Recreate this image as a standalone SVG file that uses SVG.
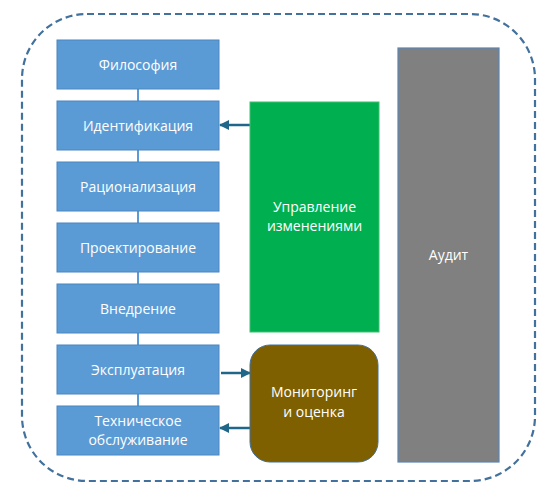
<svg xmlns="http://www.w3.org/2000/svg" width="547" height="490" viewBox="0 0 547 490">
<style>
.step{fill:#5B9BD5;stroke:#4A86C0;stroke-width:1}
.t{font-family:"Open Sans","Liberation Sans",sans-serif;font-size:14px;fill:#fff;text-anchor:middle}
.link{stroke:#5B9BD5;stroke-width:2;fill:none}
.arr{stroke:#1F6688;stroke-width:2.5;fill:none;marker-end:url(#ah)}
</style>
<defs>
<marker id="ah" viewBox="0 0 10 10" refX="9" refY="5" markerWidth="4" markerHeight="4" orient="auto" markerUnits="strokeWidth">
<path d="M0,0 L10,5 L0,10 z" fill="#1F6688"/>
</marker>
</defs>
<rect x="22" y="14" width="513" height="467" rx="65" ry="65" fill="none" stroke="#41719C" stroke-width="2.2" stroke-dasharray="7,4"/>
<g id="connectors">
<line class="link" x1="138" y1="89" x2="138" y2="101"/>
<line class="link" x1="138" y1="150" x2="138" y2="162"/>
<line class="link" x1="138" y1="211" x2="138" y2="223"/>
<line class="link" x1="138" y1="272" x2="138" y2="284"/>
<line class="link" x1="138" y1="333" x2="138" y2="345"/>
<line class="link" x1="138" y1="394" x2="138" y2="406"/>
<line class="arr" x1="250" y1="125" x2="220" y2="125"/>
<line class="arr" x1="221" y1="373" x2="250" y2="373"/>
<line class="arr" x1="250" y1="428" x2="220" y2="428"/>
</g>
<g id="n1"><rect class="step" x="57" y="40" width="162" height="49"/><text class="t" x="138" y="69.5">Философия</text></g>
<g id="n2"><rect class="step" x="57" y="101" width="162" height="49"/><text class="t" x="138" y="130.5">Идентификация</text></g>
<g id="n3"><rect class="step" x="57" y="162" width="162" height="49"/><text class="t" x="138" y="191.5">Рационализация</text></g>
<g id="n4"><rect class="step" x="57" y="223" width="162" height="49"/><text class="t" x="138" y="252.5">Проектирование</text></g>
<g id="n5"><rect class="step" x="57" y="284" width="162" height="49"/><text class="t" x="138" y="313.5">Внедрение</text></g>
<g id="n6"><rect class="step" x="57" y="345" width="162" height="49"/><text class="t" x="138" y="374.5">Эксплуатация</text></g>
<g id="n7"><rect class="step" x="57" y="406" width="162" height="49"/><text class="t" x="138" y="426">Техническое</text><text class="t" x="138" y="445">обслуживание</text></g>
<g id="change"><rect x="250" y="102" width="129" height="230" fill="#00B050" stroke="#3FBF70" stroke-width="1"/><text class="t" x="314.5" y="212">Управление</text><text class="t" x="314.5" y="231">изменениями</text></g>
<g id="monitor"><rect x="250" y="345" width="128" height="117" rx="20" ry="20" fill="#7F6000" stroke="#41719C" stroke-width="1"/><text class="t" x="314" y="397">Мониторинг</text><text class="t" x="314" y="417">и оценка</text></g>
<g id="audit"><rect x="398" y="48" width="101" height="414" fill="#808080" stroke="#5B86B5" stroke-width="1.2"/><text class="t" x="448.5" y="260">Аудит</text></g>
</svg>
